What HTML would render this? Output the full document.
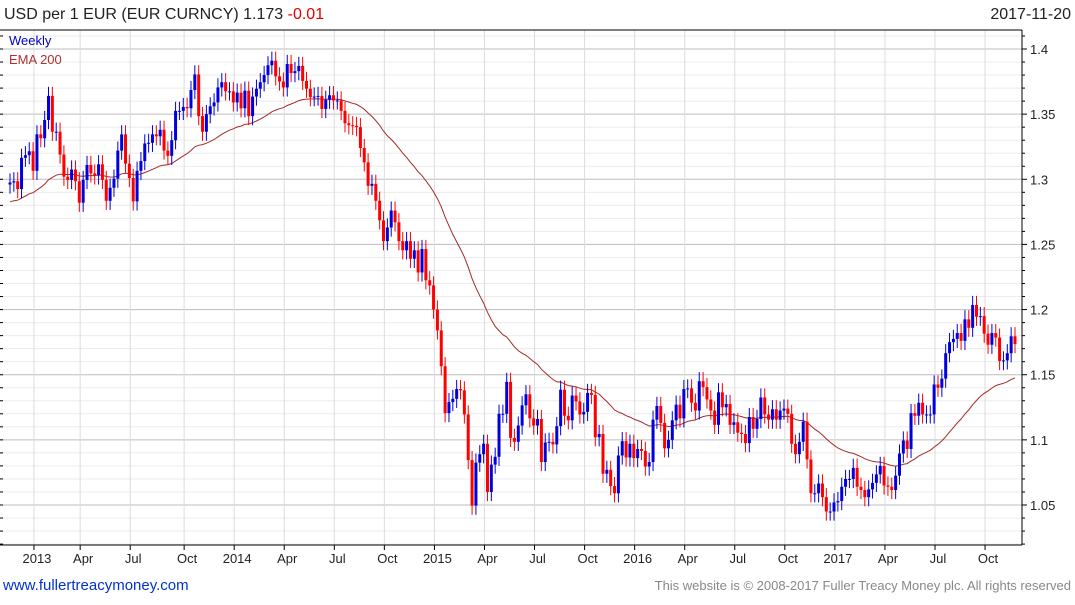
<!DOCTYPE html>
<html><head><meta charset="utf-8">
<style>
body{margin:0;background:#fff;font-family:"Liberation Sans",sans-serif;}
svg text{font-family:"Liberation Sans",sans-serif;}
</style></head>
<body>
<svg id="chart" width="1075" height="600" xmlns="http://www.w3.org/2000/svg">
<text x="4" y="19" font-size="16" fill="#222">USD per 1 EUR (EUR CURNCY) 1.173 <tspan fill="#e00000">-0.01</tspan></text>
<text x="1071" y="19" font-size="16" fill="#222" text-anchor="end">2017-11-20</text>
<g id="grid"></g>
<g id="ema"></g>
<g id="candles"></g>
<g id="axes"></g>
<text x="9" y="45" font-size="13" fill="#0000cc">Weekly</text>
<text x="9" y="64" font-size="13" fill="#b03030">EMA 200</text>
<text x="3" y="590" font-size="15" fill="#0033cc">www.fullertreacymoney.com</text>
<text x="1071" y="590" font-size="13" fill="#888" text-anchor="end">This website is © 2008-2017 Fuller Treacy Money plc. All rights reserved</text>
</svg>
<script>
const startDate = [2012, 10, 19];
const closes = [1.2975,1.2985,1.2925,1.3165,1.3185,1.3215,1.3065,1.3345,1.3315,1.3455,1.3640,1.3365,1.3365,1.3190,1.3020,1.2995,1.3075,1.2985,1.2820,1.2995,1.3110,1.3045,1.3030,1.3115,1.2995,1.2835,1.2935,1.3005,1.3220,1.3345,1.3120,1.3010,1.2830,1.3065,1.3140,1.3275,1.3280,1.3345,1.3330,1.3380,1.3220,1.3180,1.3300,1.3525,1.3525,1.3555,1.3545,1.3685,1.3805,1.3485,1.3365,1.3500,1.3560,1.3590,1.3705,1.3745,1.3675,1.3675,1.3590,
1.3665,1.3545,1.3680,1.3485,1.3635,1.3695,1.3745,1.3800,1.3875,1.3910,1.3790,1.3750,1.3705,1.3885,1.3815,1.3830,1.3870,1.3755,1.3695,1.3630,1.3635,1.3640,1.3540,1.3610,1.3645,1.3605,1.3605,1.3525,1.3430,1.3415,1.3410,1.3400,1.3240,1.3130,1.2950,1.2965,1.2835,1.2685,1.2525,1.2630,1.2760,1.2670,1.2525,1.2455,1.2525,1.2390,1.2455,1.2285,1.2465,1.2225,1.2185,1.2000,
1.1840,1.1565,1.1205,1.1290,1.1315,1.1390,1.1380,1.1195,1.0845,1.0495,1.0825,1.0890,1.0970,1.0600,1.0810,1.0870,1.1200,1.1200,1.1445,1.1015,1.0985,1.1110,1.1265,1.1350,1.1165,1.1110,1.1160,1.0830,1.0980,1.0985,1.0965,1.1105,1.1385,1.1185,1.1150,1.1340,1.1295,1.1195,1.1215,1.1360,1.1345,1.1020,1.1045,1.0740,1.0770,1.0645,1.0590,1.0880,1.0990,1.0865,1.0970,1.0860,
1.0930,1.0915,1.0795,1.0830,1.1155,1.1260,1.1130,1.0935,1.1000,1.1150,1.1270,1.1165,1.1390,1.1395,1.1285,1.1225,1.1450,1.1405,1.1310,1.1225,1.1115,1.1365,1.1250,1.1275,1.1115,1.1135,1.1055,1.1045,1.0975,1.1175,1.1085,1.1160,1.1325,1.1195,1.1155,1.1235,1.1155,1.1225,1.1240,1.1200,1.0970,1.0890,1.0985,1.1140,1.0850,1.0590,1.0590,1.0665,1.0560,1.0450,1.0450,1.0520,
1.0530,1.0640,1.0700,1.0700,1.0785,1.0640,1.0615,1.0560,1.0620,1.0670,1.0735,1.0800,1.0650,1.0640,1.0615,1.0725,1.0895,1.0995,1.0930,1.1205,1.1185,1.1285,1.1195,1.1195,1.1195,1.1425,1.1400,1.1470,1.1665,1.1750,1.1775,1.1820,1.1760,1.1925,1.1860,1.2035,1.1945,1.1950,1.1815,1.1730,1.1820,1.1785,1.1605,1.1610,1.1665,1.1795,1.1735];
const firstOpen = 1.2960;
const yTicks = [1.05,1.1,1.15,1.2,1.25,1.3,1.35,1.4];
const emaSeed = 1.282;

const NS = "http://www.w3.org/2000/svg";
const X0 = 10, X1 = 1015, LEFT = 0, RIGHT = 1022, TOP = 30, BOTTOM = 545;
const n = closes.length;
function xOf(i){ return X0 + i * (X1 - X0) / (n - 1); }
function yOf(p){ return 49 + (1.4 - p) * (456 / 0.35); }
function mk(tag, attrs, parent){ const e = document.createElementNS(NS, tag); for (const k in attrs) e.setAttribute(k, attrs[k]); parent.appendChild(e); return e; }

const grid = document.getElementById('grid');
for (let k = 100; k <= 142; k++) {
  const p = k / 100, y = yOf(p);
  if (y < TOP || y > BOTTOM) continue;
  const major = (k % 5 === 0);
  const l = mk('line', {x1: LEFT, x2: RIGHT, y1: y, y2: y, stroke: major ? '#bdbdbd' : '#ebebeb', 'stroke-width': 1}, grid);
  
  
}
const axes = document.getElementById('axes');
const mnames = {0: null, 3: 'Apr', 6: 'Jul', 9: 'Oct'};
let prevM = null;
for (let i = 0; i < n; i++) {
  const d = new Date(startDate[0], startDate[1], startDate[2] + 7 * i);
  const m = d.getMonth();
  if (prevM !== null && m !== prevM && m % 3 === 0) {
    const x = xOf(i) - 3;
    const gl = mk('line', {x1: x, x2: x, y1: TOP, y2: BOTTOM, stroke: '#dcdcdc', 'stroke-width': 1}, grid);
    
    
    mk('line', {x1: x, x2: x, y1: BOTTOM, y2: BOTTOM + 5, stroke: '#000'}, axes);
    const t = mk('text', {x: x + 3, y: 563, 'font-size': 13, fill: '#222', 'text-anchor': 'middle'}, axes);
    t.textContent = m === 0 ? String(d.getFullYear()) : mnames[m];
    
    
  }
  prevM = m;
}
let ema = emaSeed, pts = [];
const alpha = 2 / 41;
for (let i = 0; i < n; i++) { ema = ema + alpha * (closes[i] - ema); pts.push(xOf(i).toFixed(1) + ',' + yOf(ema).toFixed(1)); }
const emaLine = mk('polyline', {points: pts.join(' '), fill: 'none', stroke: '#a52a2a', 'stroke-width': 1}, document.getElementById('ema'));


const cg = document.getElementById('candles');
for (let i = 0; i < n; i++) {
  const o = i === 0 ? firstOpen : closes[i - 1], c = closes[i];
  const hi = Math.max(o, c) + 0.007, lo = Math.min(o, c) - 0.007;
  const col = c >= o ? '#0000dd' : '#ff0000';
  const x = xOf(i);
  const g = mk('g', {}, cg);
  
  
  mk('line', {x1: x, x2: x, y1: yOf(hi), y2: yOf(lo), stroke: col, 'stroke-width': 1}, g);
  const top = yOf(Math.max(o, c)), h = Math.max(1, yOf(Math.min(o, c)) - top);
  mk('rect', {x: x - 1.5, y: top, width: 3, height: h, fill: col}, g);
}
mk('line', {x1: 0, x2: RIGHT, y1: TOP, y2: TOP, stroke: '#000'}, axes);
mk('line', {x1: RIGHT, x2: RIGHT, y1: TOP, y2: BOTTOM, stroke: '#000'}, axes);
mk('line', {x1: 0, x2: RIGHT, y1: BOTTOM, y2: BOTTOM, stroke: '#000'}, axes);
for (let k = 100; k <= 142; k++) {
  const y = yOf(k / 100);
  if (y < TOP || y > BOTTOM) continue;
  mk('line', {x1: RIGHT, x2: RIGHT + (k % 5 === 0 ? 5 : 3), y1: y, y2: y, stroke: '#000'}, axes);
  mk('line', {x1: 0, x2: 3, y1: y, y2: y, stroke: '#000'}, axes);
}
yTicks.forEach(v => {
  const t = mk('text', {x: 1030, y: yOf(v) + 5, 'font-size': 13, fill: '#222'}, axes);
  t.textContent = String(v);
  
  
});
</script>
</body></html>
